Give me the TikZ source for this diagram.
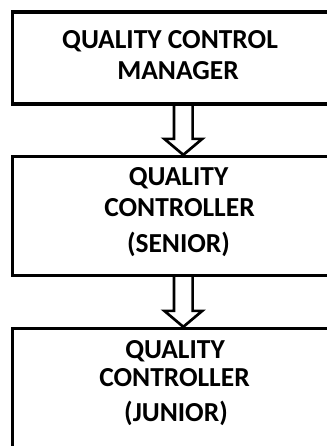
\documentclass[tikz,border=0pt]{standalone}
\usepackage{fontspec}
\setmainfont{Carlito}
\usetikzlibrary{fit,calc}

\tikzset{
  rank/.style={draw=black, line width=2.5pt, inner sep=0pt, fill=none},
  caption/.style={font=\bfseries\fontsize{20.6pt}{24pt}\selectfont, anchor=base, inner sep=0pt, text=black},
  hollow/.style={draw=black, line width=2pt, line join=miter, miter limit=10,
    to path={
      let \p1=(\tikztostart), \p2=(\tikztotarget) in
      (\x1-7pt,\y1) -- (\x1-7pt,\y2+12pt) -- (\x1-14.25pt,\y2+12pt) --
      (\x1,\y2) -- (\x1+14.25pt,\y2+12pt) -- (\x1+7pt,\y2+12pt) -- (\x1+7pt,\y1)
    }}
}

\begin{document}
\begin{tikzpicture}[x=0.75pt,y=-0.75pt]
  \useasboundingbox (0,0) rectangle (327,446);
  \fill[white] (0,0) rectangle (327,446);

  % the three ranks of the quality control chain
  \node[rank, fit={(12.5,12) (344,104)}] (mgr) {};
  \node[rank, fit={(12.5,156.5) (344,275.5)}] (sen) {};
  \node[rank, fit={(12.5,328.5) (344,480)}] (jun) {};

  % titles
  \node[caption] (mgr1) at (170,48) {QUALITY CONTROL};
  \node[caption] (mgr2) at (178,79) {MANAGER};

  \node[caption] (sen1) at (178.5,185) {QUALITY};
  \node[caption] (sen2) at (179.5,216) {CONTROLLER};
  \node[caption] (sen3) at (178.5,252.5) {(SENIOR)};

  \node[caption] (jun1) at (175,358) {QUALITY};
  \node[caption] (jun2) at (174.5,386.7) {CONTROLLER};
  \node[caption] (jun3) at (176,421.5) {(JUNIOR)};

  % hollow block arrows between the ranks
  \coordinate (ax) at (183.3,0);
  \draw[hollow] (mgr.south -| ax) to (sen.north -| ax);
  \draw[hollow] (sen.south -| ax) to (jun.north -| ax);
\end{tikzpicture}
\end{document}
